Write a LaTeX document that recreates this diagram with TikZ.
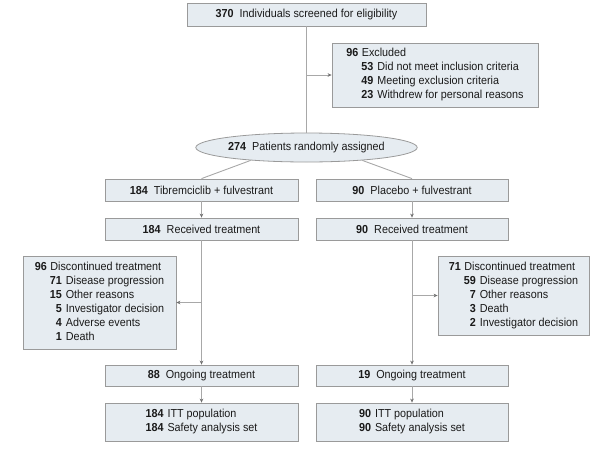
\documentclass[tikz,border=0pt]{standalone}
\usepackage{fontspec}
\setmainfont{Liberation Sans}[FakeStretch=0.93]
\usetikzlibrary{shapes.geometric,arrows.meta,calc}
\definecolor{boxfill}{HTML}{E6ECF1}
\definecolor{boxline}{HTML}{9A9A9A}
\definecolor{conn}{HTML}{A8A8A8}
\definecolor{tipc}{HTML}{707070}
\definecolor{txt}{HTML}{1A1A1A}
\newcommand{\nb}[1]{\textbf{#1}}
\begin{document}
\begin{tikzpicture}[x=1pt,y=-1pt,
  font=\fontsize{11.6}{14}\selectfont, text=txt,
  boxn/.style={draw=boxline,fill=boxfill,line width=0.8pt,inner sep=0pt,align=center},
  conn/.style={draw=conn,line width=0.9pt},
  arr/.style={conn,-{Stealth[length=4pt,width=3.6pt,color=tipc]}}]
\useasboundingbox (0,0) rectangle (600,456);
\node[boxn,minimum width=239pt,minimum height=23pt] (top) at (306.5,14.5) {\nb{370}\ \ Individuals screened for eligibility};
\node[boxn,minimum width=206pt,minimum height=64pt] (excl) at (435,75)
 {\begin{tabular}{@{}r@{\hspace{4pt}}l@{}}
 \multicolumn{2}{@{}l@{}}{\nb{96}\hspace{3.5pt}Excluded}\\
 \hspace{15pt}\nb{53} & Did not meet inclusion criteria\\
 \nb{49} & Meeting exclusion criteria\\
 \nb{23} & Withdrew for personal reasons
 \end{tabular}};
\node[boxn,ellipse,minimum width=181pt,minimum height=29pt] (rand) at (306.5,147.5) {\nb{274}\ \ Patients randomly assigned};
\node[boxn,minimum width=193pt,minimum height=22pt] (tib) at (201.5,190) {\nb{184}\ \ Tibremciclib + fulvestrant};
\node[boxn,minimum width=192pt,minimum height=22pt] (plac) at (412,190) {\nb{90}\ \ Placebo + fulvestrant};
\node[boxn,minimum width=193pt,minimum height=22pt] (rec1) at (201.5,229) {\nb{184}\ \ Received treatment};
\node[boxn,minimum width=192pt,minimum height=22pt] (rec2) at (412,229) {\nb{90}\ \ Received treatment};
\node[boxn,minimum width=153pt,minimum height=93pt] (disc1) at (99.5,302.5)
 {\begin{tabular}{@{}r@{\hspace{4pt}}l@{}}
 \multicolumn{2}{@{}l@{}}{\nb{96}\hspace{3.5pt}Discontinued treatment}\\
 \hspace{15pt}\nb{71} & Disease progression\\
 \nb{15} & Other reasons\\
 \nb{5} & Investigator decision\\
 \nb{4} & Adverse events\\
 \nb{1} & Death
 \end{tabular}};
\node[boxn,minimum width=151pt,minimum height=79pt] (disc2) at (513.5,295.5)
 {\begin{tabular}{@{}r@{\hspace{4pt}}l@{}}
 \multicolumn{2}{@{}l@{}}{\nb{71}\hspace{3.5pt}Discontinued treatment}\\
 \hspace{15pt}\nb{59} & Disease progression\\
 \nb{7} & Other reasons\\
 \nb{3} & Death\\
 \nb{2} & Investigator decision
 \end{tabular}};
\node[boxn,minimum width=193pt,minimum height=21pt] (ong1) at (201.5,375.5) {\nb{88}\ \ Ongoing treatment};
\node[boxn,minimum width=192pt,minimum height=21pt] (ong2) at (412,375.5) {\nb{19}\ \ Ongoing treatment};
\node[boxn,minimum width=193pt,minimum height=38pt] (itt1) at (201.5,422)
 {\begin{tabular}{@{}r@{\hspace{4pt}}l@{}}
 \nb{184} & ITT population\\
 \nb{184} & Safety analysis set
 \end{tabular}};
\node[boxn,minimum width=192pt,minimum height=38pt] (itt2) at (412,422)
 {\begin{tabular}{@{}r@{\hspace{4pt}}l@{}}
 \nb{90} & ITT population\\
 \nb{90} & Safety analysis set
 \end{tabular}};
% connectors
\draw[conn] (top.south) -- (rand.north);
\draw[arr] (top.south |- excl.west) -- (excl.west);
\draw[conn] (rand.193) -- (tib.north);
\draw[conn] (rand.-13) -- (plac.north);
\draw[arr] (tib.south) -- (rec1.north);
\draw[arr] (plac.south) -- (rec2.north);
\draw[arr] (rec1.south) -- (ong1.north);
\draw[arr] (rec2.south) -- (ong2.north);
\draw[arr] (rec1.south |- disc1.east) -- (disc1.east);
\draw[arr] (rec2.south |- disc2.west) -- (disc2.west);
\draw[arr] (ong1.south) -- (itt1.north);
\draw[arr] (ong2.south) -- (itt2.north);
\end{tikzpicture}
\end{document}
